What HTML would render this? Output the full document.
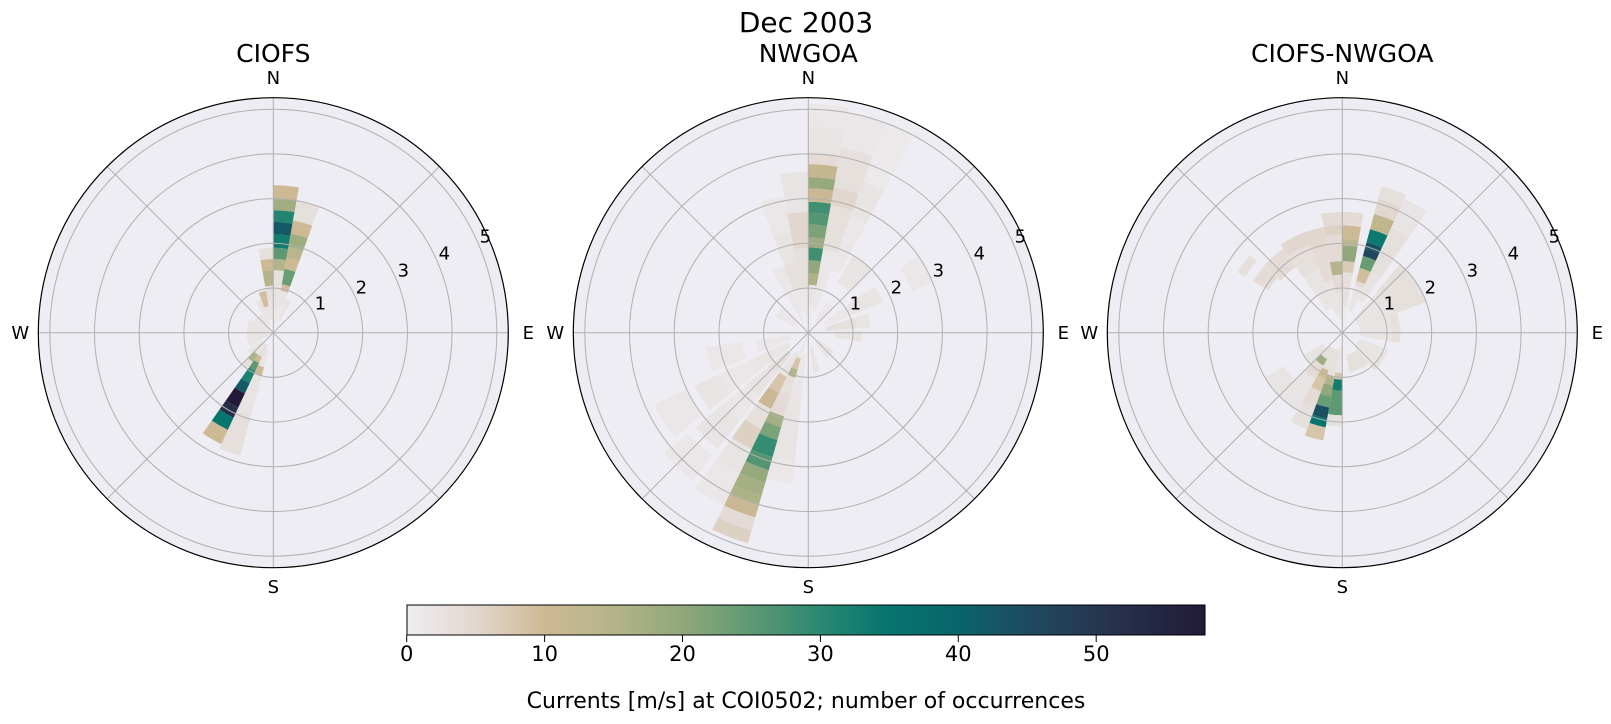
<!DOCTYPE html>
<html><head><meta charset="utf-8"><style>
html,body{margin:0;padding:0;background:#fff;}
svg{display:block;font-family:"DejaVu Sans","Liberation Sans",sans-serif;}
</style></head><body>
<svg id="s" width="1611" height="724" viewBox="0 0 1611 724" xmlns="http://www.w3.org/2000/svg">
<defs>
<linearGradient id="cb" x1="0" x2="1" y1="0" y2="0">
<stop offset="0" stop-color="#efedf2"/><stop offset="0.09" stop-color="#e0d6cd"/><stop offset="0.17" stop-color="#cfb995"/><stop offset="0.26" stop-color="#b4b48a"/><stop offset="0.345" stop-color="#90a87b"/><stop offset="0.43" stop-color="#5f9973"/><stop offset="0.52" stop-color="#2a8872"/><stop offset="0.6" stop-color="#06766e"/><stop offset="0.69" stop-color="#0a646b"/><stop offset="0.78" stop-color="#1e4a5f"/><stop offset="0.87" stop-color="#27354f"/><stop offset="1" stop-color="#221a38"/>
</linearGradient>
</defs>
<text x="806" y="32" font-size="28" text-anchor="middle">Dec 2003</text>
<rect x="407" y="605" width="798" height="30" fill="url(#cb)" stroke="#000" stroke-width="1"/>
<g id="cbt" font-size="21" text-anchor="middle"></g>
<text x="806" y="708" font-size="22" text-anchor="middle">Currents [m/s] at COI0502; number of occurrences</text>
</svg>
<script>
var S=document.getElementById('s'),NS='http://www.w3.org/2000/svg';
function el(t,a,p){var e=document.createElementNS(NS,t);for(var k in a)e.setAttribute(k,a[k]);(p||S).appendChild(e);return e;}
var stops=[[0,[239,237,242]],[0.09,[224,214,205]],[0.17,[207,185,149]],[0.26,[180,180,138]],[0.345,[144,168,123]],[0.43,[95,153,115]],[0.52,[42,136,114]],[0.6,[6,118,110]],[0.69,[10,100,107]],[0.78,[30,74,95]],[0.87,[39,53,79]],[1,[34,26,56]]];
function cmap(v){var t=Math.max(0,Math.min(1,v/58));for(var i=1;i<stops.length;i++){if(t<=stops[i][0]){var a=stops[i-1],b=stops[i],f=(t-a[0])/(b[0]-a[0]);return 'rgb('+[0,1,2].map(function(j){return Math.round(a[1][j]+(b[1][j]-a[1][j])*f)}).join(',')+')';}}return 'rgb(34,26,56)';}
var U=44.7,R=235,CY=332.7;
function pt(cx,a,r){var t=a*Math.PI/180;return [cx+r*Math.sin(t),CY-r*Math.cos(t)];}
function wedge(g,cx,a0,a1,r0,r1,v){var A=pt(cx,a0,r0*U),B=pt(cx,a0,r1*U),C=pt(cx,a1,r1*U),D=pt(cx,a1,r0*U);
var d='M'+A+'L'+B+'A'+r1*U+','+r1*U+' 0 0 1 '+C+'L'+D+(r0>0?'A'+r0*U+','+r0*U+' 0 0 0 '+A:'')+'Z';el('path',{d:d,fill:cmap(v)},g);}
var P1=[
[0,10,[[0,0.5,1],[0.5,1.05,2],[1.05,1.4,3],[1.4,1.65,15],[1.65,1.9,25],[1.9,2.2,33],[2.2,2.48,42],[2.48,2.74,31],[2.74,3.0,18],[3.0,3.3,10]]],
[10,20,[[0.2,0.6,1],[0.6,0.95,2],[0.95,1.1,9],[1.1,1.45,24],[1.45,1.7,10],[1.7,1.95,14],[1.95,2.25,18],[2.25,2.55,10],[2.55,3.0,3]]],
[350,360,[[0.3,0.75,2],[0.75,1.05,3],[1.05,1.4,15],[1.4,1.65,10],[1.65,1.9,3]]],
[340,350,[[0.3,0.6,2],[0.6,0.95,9]]],
[330,340,[[0.2,0.8,2]]],[20,30,[[0.3,0.8,2]]],
[270,300,[[0.1,0.6,2]]],[240,270,[[0.1,0.6,2]]],[300,330,[[0.1,0.5,2]]],
[205,215,[[0.3,0.6,3],[0.6,0.75,10],[0.75,0.95,25],[0.95,1.25,32],[1.25,1.5,42],[1.5,1.85,58],[1.85,2.1,52],[2.1,2.4,35],[2.4,2.75,10]]],
[215,225,[[0.3,0.6,2],[0.6,0.8,16],[0.8,1.0,3]]],
[195,205,[[0.4,0.8,2],[0.8,1.0,10],[1.0,1.9,2],[1.9,2.85,3]]],
[225,235,[[0.3,0.7,2]]]
];
var P2=[
[0,10,[[0,0.6,1],[0.6,1.07,2],[1.07,1.33,16],[1.33,1.62,20],[1.62,1.91,28],[1.91,2.13,18],[2.13,2.42,22],[2.42,2.68,26],[2.68,2.93,28],[2.93,3.23,11],[3.23,3.48,19],[3.48,3.77,12],[3.77,4.03,4],[4.03,4.6,2],[4.6,5.12,1.5]]],
[10,20,[[0.5,1.0,1.5],[1.0,1.9,1.5],[1.9,2.9,3],[2.9,3.3,5],[3.3,4.2,3],[4.2,5.0,1.5]]],
[20,28,[[1.5,2.8,1.5],[2.8,3.6,2],[3.6,5.0,1]]],
[350,360,[[0.4,1.0,1.5],[1.0,1.9,3],[1.9,2.7,5],[2.7,3.6,2]]],
[340,350,[[0.5,1.0,1.5],[1.0,1.6,3],[1.6,2.3,2],[2.3,3.1,1.5]]],
[330,340,[[0.3,1.0,1.5],[1.0,1.6,1.5]]],
[30,45,[[0.3,0.8,1.5],[1.3,2.0,2]]],[55,68,[[0.4,1.0,1.5],[1.0,1.8,2],[2.5,3.0,1.5]]],
[72,85,[[0.4,1.1,3],[1.1,1.4,2]]],[88,100,[[0.6,1.2,2]]],
[125,145,[[0.3,0.7,2]]],[163,173,[[0.3,0.9,2]]],
[196,206,[[0,0.6,1.5],[0.6,0.86,8],[0.86,1.05,15],[1.05,1.45,3],[1.45,1.95,4],[1.95,2.2,17],[2.2,2.5,22],[2.5,2.9,29],[2.9,3.2,26],[3.2,3.5,19],[3.5,3.8,17],[3.8,4.0,16],[4.0,4.3,11],[4.3,4.6,4],[4.6,4.9,6]]],
[206,216,[[0.5,1.1,2],[1.1,1.5,8],[1.5,1.9,11],[1.9,2.4,3],[2.4,2.9,6],[2.9,3.5,2],[3.5,4.3,1.5]]],
[186,196,[[0.5,1.5,1.5],[1.5,2.9,2],[2.9,3.4,1.5]]],
[218,230,[[0.6,1.2,3],[1.2,1.8,2],[1.8,2.5,1.5],[2.5,3.3,2],[3.5,4.2,1.5]]],
[232,245,[[0.5,1.3,2],[1.3,2.2,1.5],[2.2,2.8,2],[3.0,3.8,1.5]]],
[248,262,[[0.4,1.2,1.5],[1.5,2.3,1.5]]],[295,315,[[0.3,0.8,1.5]]]
];
var P3=[
[0,10,[[0,0.6,1],[0.6,1.35,3],[1.35,1.6,7],[1.6,1.95,20],[1.95,2.1,14],[2.1,2.4,10],[2.4,2.7,4]]],
[15,25,[[0.5,1.1,2],[1.1,1.2,4],[1.2,1.5,9],[1.5,1.78,24],[1.78,1.95,46],[1.95,2.1,44],[2.1,2.4,34],[2.4,2.75,13],[2.75,3.1,5],[3.1,3.4,3]]],
[25,35,[[0.8,1.5,2],[1.5,2.6,3],[2.6,3.3,2]]],
[350,360,[[0.3,0.9,2],[0.9,1.3,4],[1.3,1.6,15],[1.6,2.2,4],[2.2,2.4,6],[2.4,2.7,4]]],
[340,350,[[0.4,1.2,2],[1.2,2.0,4],[2.0,2.4,5]]],
[325,340,[[0.6,1.5,2],[1.5,2.1,3],[2.1,2.4,5]]],
[310,325,[[1.8,2.3,4]]],[300,310,[[1.9,2.3,4],[2.5,2.7,3]]],
[40,70,[[0.4,1.2,2],[1.2,2.0,3]]],[70,100,[[0.4,1.1,2],[1.1,1.3,3]]],
[110,140,[[0.4,1.1,2]]],[140,170,[[0.5,0.9,3]]],
[180,190,[[0.3,0.9,2],[0.9,1.05,8],[1.05,1.3,33],[1.3,1.85,25],[1.85,2.1,3]]],
[190,200,[[0.4,1.0,3],[1.0,1.2,15],[1.2,1.45,20],[1.45,1.7,24],[1.7,1.95,44],[1.95,2.15,35],[2.15,2.45,8]]],
[200,210,[[0.4,0.9,3],[0.9,1.1,10],[1.1,1.4,8],[1.4,1.8,4],[1.8,2.3,3]]],
[210,225,[[0.4,0.68,3],[0.68,0.85,18],[0.85,1.2,4],[1.2,2.0,2]]],
[225,240,[[0.5,1.0,2],[1.5,2.0,2]]]
];
function polar(cx,title,data){
 el('circle',{cx:cx,cy:CY,r:R,fill:'#eeedf3'});
 var g=el('g',{});
 data.forEach(function(b){b[2].forEach(function(s){wedge(g,cx,b[0],b[1],s[0],s[1],s[2]);});});
 for(var k=1;k<=5;k++)el('circle',{cx:cx,cy:CY,r:k*U,fill:'none',stroke:'#b0b0b0','stroke-width':1});
 for(var a=0;a<360;a+=45){var p=pt(cx,a,R);el('line',{x1:cx,y1:CY,x2:p[0],y2:p[1],stroke:'#b0b0b0','stroke-width':1});}
 el('circle',{cx:cx,cy:CY,r:R,fill:'none',stroke:'#000','stroke-width':1.2});
 var t=el('text',{x:cx,y:62,'font-size':25,'text-anchor':'middle'});t.textContent=title;
 [['N',cx,84],['S',cx,593],['W',cx-253,339],['E',cx+255,339]].forEach(function(l){var e=el('text',{x:l[1],y:l[2],'font-size':18,'text-anchor':'middle'});e.textContent=l[0];});
 var rl=[[47,-29],[88,-45],[130,-62],[171,-79],[212,-96]];
 rl.forEach(function(o,i){var e=el('text',{x:cx+o[0],y:CY+o[1]+6,'font-size':18,'text-anchor':'middle'});e.textContent=String(i+1);});
}
polar(273.3,'CIOFS',P1);polar(808.3,'NWGOA',P2);polar(1342.3,'CIOFS-NWGOA',P3);
var cbt=document.getElementById('cbt');
for(var v=0;v<=50;v+=10){var x=406.7+v*13.79;el('line',{x1:x,y1:635,x2:x,y2:642,stroke:'#000','stroke-width':1},cbt);var e=el('text',{x:x,y:661},cbt);e.textContent=String(v);}
</script>
</body></html>
